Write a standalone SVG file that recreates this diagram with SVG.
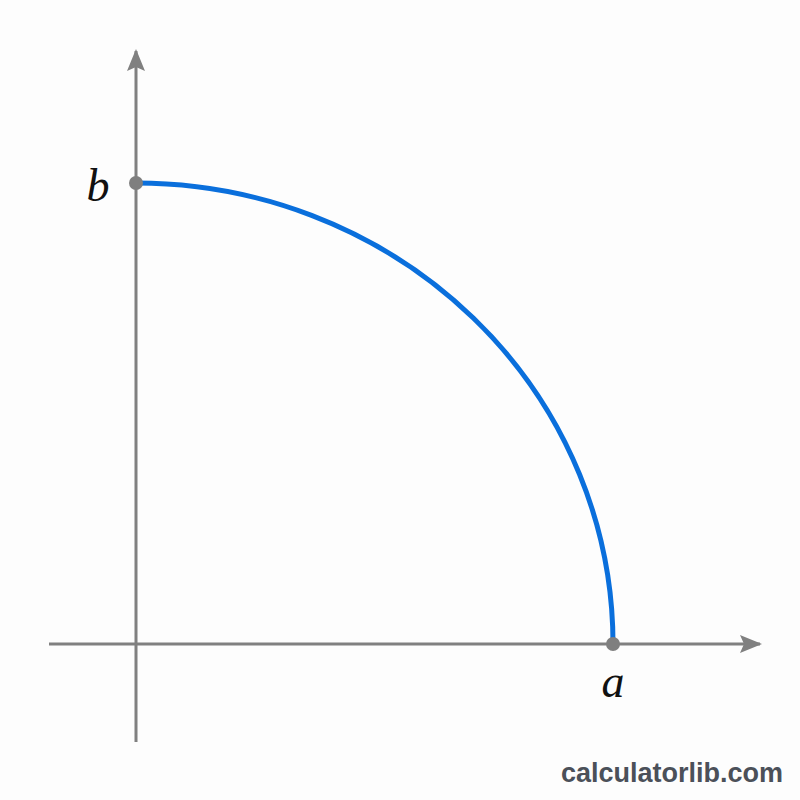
<svg xmlns="http://www.w3.org/2000/svg" width="800" height="800" viewBox="0 0 800 800">
<style>
.axis{stroke:#808080;stroke-width:3;fill:none}
.curve{stroke:#0a6fdc;stroke-width:5;fill:none;stroke-linecap:round}
.pt{fill:#7f7f7f}
.lbl{font-family:"Liberation Serif","DejaVu Serif",serif;font-style:italic;font-size:46px;fill:#111}
.wm{font-family:"Liberation Sans",Arial,sans-serif;font-weight:bold;font-size:27px;fill:#4b5059}
</style>
<defs>
<marker id="arr" viewBox="0 0 22 20" refX="20" refY="10" markerWidth="22" markerHeight="20" markerUnits="userSpaceOnUse" orient="auto">
<path d="M0,1 L22,10 L0,19 L4,10 Z" fill="#808080"/>
</marker>
</defs>
<rect width="800" height="800" fill="#fdfdfd"/>
<g id="connectors">
<line class="axis" x1="49" y1="644" x2="760" y2="644" marker-end="url(#arr)"/>
<line class="axis" x1="136" y1="742" x2="136" y2="51" marker-end="url(#arr)"/>
<path class="curve" d="M136,183 A477,461 0 0 1 613,644"/>
</g>
<g id="point-b">
<circle class="pt" cx="136" cy="183" r="7"/>
<text class="lbl" x="98" y="201" text-anchor="middle">b</text>
</g>
<g id="point-a">
<circle class="pt" cx="613" cy="644" r="7"/>
<text class="lbl" x="613" y="697" text-anchor="middle">a</text>
</g>
<g id="watermark">
<text class="wm" x="783" y="782" text-anchor="end">calculatorlib.com</text>
</g>
</svg>
